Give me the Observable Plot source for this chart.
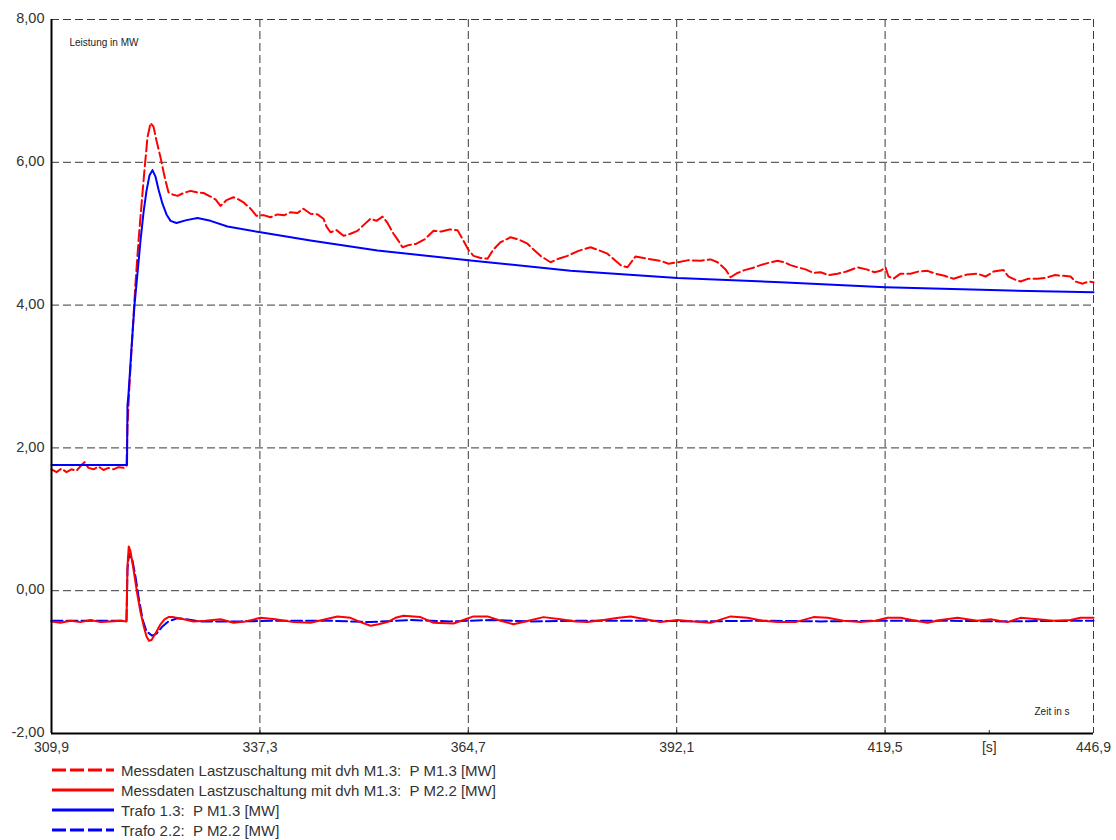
<!DOCTYPE html>
<html>
<head>
<meta charset="utf-8">
<script src="https://cdn.jsdelivr.net/npm/d3@7"></script>
<script src="https://cdn.jsdelivr.net/npm/@observablehq/plot@0.6"></script>
<style>
  html, body { margin: 0; padding: 0; background: #fff; }
  body { width: 1116px; height: 840px; overflow: hidden; font-family: "Liberation Sans", Arial, sans-serif; }
  #legend { margin-left: 52px; }
  .row { height: 20px; display: flex; align-items: center; font-size: 15px; color: #333; white-space: pre; }
  .row svg { margin-right: 7px; }
</style>
</head>
<body>
<div id="chart"></div>
<div id="legend"></div>
<script>
// ---- axis ticks ----
const xTicks = [309.9, 337.3, 364.7, 392.1, 419.5, 433.2, 446.9];
const xTickLabels = ["309,9", "337,3", "364,7", "392,1", "419,5", "[s]", "446,9"];
const xGrid = [337.3, 364.7, 392.1, 419.5, 446.9];
const yTicks = [-2, 0, 2, 4, 6, 8];
const yGrid = [0, 2, 4, 6, 8];

// ---- series: [time s, power MW] ----
const messM13 = [ // Messdaten Lastzuschaltung mit dvh M1.3: P M1.3 (dashed red)
  [309.9,1.70],[310.56,1.66],[311.21,1.71],[311.87,1.66],[312.53,1.70],[313.19,1.68],[313.84,1.76],[314.24,1.80],
  [314.76,1.72],[315.42,1.70],[316.08,1.74],[316.74,1.69],[317.39,1.72],[318.05,1.70],[318.71,1.73],[319.50,1.72],
  [319.76,1.75],[319.89,2.30],[320.16,2.90],[320.55,3.60],[320.94,4.30],[321.34,4.90],[321.73,5.40],[322.13,5.90],
  [322.52,6.35],[322.92,6.55],[323.31,6.50],[323.71,6.30],[324.23,6.07],[324.76,5.80],[325.28,5.58],[325.81,5.55],
  [326.47,5.53],[327.26,5.57],[328.18,5.60],[328.96,5.58],[329.88,5.57],[330.81,5.52],[331.46,5.48],[332.12,5.39],
  [332.91,5.47],[333.83,5.51],[334.49,5.48],[335.14,5.44],[336.07,5.35],[336.85,5.25],[337.77,5.26],[338.69,5.23],
  [339.61,5.27],[340.53,5.26],[341.32,5.30],[342.24,5.29],[343.03,5.35],[343.95,5.28],[344.87,5.27],[345.66,5.21],
  [346.06,5.10],[346.58,5.02],[347.37,5.05],[348.29,4.97],[349.21,5.00],[350.13,5.04],[350.92,5.12],[351.84,5.21],
  [352.63,5.18],[353.42,5.24],[354.08,5.15],[354.87,5.00],[355.39,4.92],[356.05,4.81],[356.84,4.84],[357.89,4.86],
  [358.94,4.92],[360.13,5.04],[361.17,5.03],[362.23,5.06],[363.28,5.05],[364.07,4.90],[364.73,4.77],[365.39,4.69],
  [366.31,4.66],[367.23,4.65],[368.01,4.78],[368.93,4.88],[370.25,4.95],[371.30,4.92],[372.48,4.86],[373.27,4.78],
  [374.19,4.69],[375.51,4.60],[376.56,4.65],[377.74,4.69],[379.19,4.76],[380.77,4.81],[381.82,4.77],[383.00,4.72],
  [384.06,4.62],[384.84,4.55],[385.63,4.53],[386.68,4.68],[388.26,4.65],[389.97,4.62],[391.02,4.58],[392.21,4.60],
  [393.65,4.63],[395.23,4.62],[396.55,4.64],[397.47,4.60],[398.52,4.50],[399.18,4.39],[400.10,4.45],[401.02,4.49],
  [402.07,4.52],[403.12,4.56],[404.44,4.60],[405.36,4.62],[406.28,4.60],[407.06,4.56],[407.99,4.53],[409.04,4.50],
  [410.09,4.45],[411.01,4.46],[412.06,4.42],[413.24,4.44],[414.43,4.47],[415.87,4.53],[417.06,4.50],[418.11,4.46],
  [418.90,4.48],[419.55,4.53],[419.95,4.40],[420.61,4.37],[421.53,4.44],[422.84,4.44],[423.89,4.47],[425.08,4.48],
  [426.13,4.44],[427.31,4.41],[428.50,4.37],[429.42,4.40],[430.34,4.43],[431.65,4.44],[432.70,4.40],[433.76,4.47],
  [435.07,4.49],[435.73,4.40],[436.52,4.36],[437.30,4.33],[438.36,4.37],[439.54,4.37],[440.59,4.38],[441.78,4.42],
  [442.96,4.41],[443.88,4.40],[444.54,4.33],[445.46,4.30],[446.25,4.33],[446.9,4.32]
];
const messM22 = [ // Messdaten Lastzuschaltung mit dvh M1.3: P M2.2 (solid red)
  [309.9,-0.43],[311.08,-0.45],[312.40,-0.42],[313.71,-0.44],[315.03,-0.41],[316.34,-0.44],[317.66,-0.43],[318.97,-0.42],
  [319.76,-0.43],[319.89,0.35],[320.06,0.62],[320.29,0.55],[320.68,0.30],[321.17,-0.04],[321.60,-0.30],[322.03,-0.50],
  [322.39,-0.64],[322.72,-0.70],[323.05,-0.69],[323.57,-0.60],[324.23,-0.47],[324.76,-0.40],[325.28,-0.37],[325.94,-0.37],
  [326.86,-0.39],[328.57,-0.43],[330.15,-0.42],[332.12,-0.40],[333.83,-0.45],[335.41,-0.43],[337.38,-0.38],[339.35,-0.40],
  [341.72,-0.44],[343.95,-0.45],[345.93,-0.40],[347.50,-0.36],[349.21,-0.38],[350.53,-0.44],[351.84,-0.49],[352.89,-0.47],
  [354.08,-0.44],[355.13,-0.38],[356.18,-0.35],[358.42,-0.37],[360.13,-0.45],[362.75,-0.46],[364.33,-0.40],[365.39,-0.36],
  [367.23,-0.36],[368.93,-0.42],[370.64,-0.47],[372.61,-0.42],[374.59,-0.37],[376.82,-0.40],[378.80,-0.43],[380.37,-0.44],
  [382.48,-0.41],[384.45,-0.38],[386.03,-0.36],[388.00,-0.40],[389.97,-0.44],[392.21,-0.41],[394.31,-0.43],[396.55,-0.45],
  [399.18,-0.36],[401.41,-0.38],[403.39,-0.42],[405.36,-0.44],[407.72,-0.44],[410.09,-0.37],[411.93,-0.38],[414.03,-0.42],
  [416.27,-0.44],[418.24,-0.42],[419.82,-0.38],[421.53,-0.38],[423.50,-0.42],[425.08,-0.45],[426.79,-0.41],[429.02,-0.38],
  [431.65,-0.42],[433.36,-0.40],[435.60,-0.44],[437.30,-0.38],[439.54,-0.40],[441.64,-0.42],[443.88,-0.41],[445.19,-0.38],
  [446.9,-0.38]
];
const trafo13 = [ // Trafo 1.3: P M1.3 (solid blue)
  [309.9,1.76],[319.83,1.76],[319.89,2.60],[320.02,2.75],[320.42,3.40],[320.81,4.00],[321.21,4.45],[321.60,4.90],
  [322.00,5.30],[322.39,5.60],[322.79,5.82],[323.18,5.89],[323.57,5.80],[323.97,5.62],[324.49,5.42],[325.02,5.27],
  [325.55,5.18],[326.33,5.15],[327.65,5.19],[329.10,5.22],[330.81,5.18],[333.04,5.10],[337.38,5.02],[343.95,4.905],
  [352.76,4.765],[365.0,4.625],[378.14,4.48],[392.21,4.38],[405.75,4.32],[419.55,4.25],[433.36,4.21],[446.9,4.18]
];
const trafo22 = [ // Trafo 2.2: P M2.2 (dashed blue)
  [309.9,-0.42],[319.76,-0.42],[319.89,0.30],[320.09,0.52],[320.29,0.45],[320.55,0.42],[320.94,0.20],[321.34,-0.08],
  [321.87,-0.40],[322.39,-0.57],[323.14,-0.63],[323.71,-0.60],[324.49,-0.50],[325.28,-0.43],[326.43,-0.385],[327.65,-0.40],
  [329.49,-0.43],[334.75,-0.43],[340.0,-0.42],[346.58,-0.42],[351.84,-0.44],[357.10,-0.41],[362.36,-0.43],[367.62,-0.41],
  [372.88,-0.43],[379.45,-0.42],[387.34,-0.42],[395.23,-0.43],[403.12,-0.42],[411.01,-0.43],[418.90,-0.42],[426.79,-0.42],
  [434.68,-0.43],[446.9,-0.42]
];

const seriesNames = [
  "Messdaten Lastzuschaltung mit dvh M1.3:  P M1.3 [MW]",
  "Messdaten Lastzuschaltung mit dvh M1.3:  P M2.2 [MW]",
  "Trafo 1.3:  P M1.3 [MW]",
  "Trafo 2.2:  P M2.2 [MW]"
];
const seriesColors = ["#ff0000", "#ff0000", "#0000ff", "#0000ff"];
const seriesDash = ["11,4", null, null, "11,4"];
const yLabel = "Leistung in MW";
const xLabel = "Zeit in s";

const fmtY = d => d.toFixed(2).replace(".", ",");
const gridStyle = {stroke: "#3a3a3a", strokeWidth: 1, strokeOpacity: 1, strokeDasharray: "8,4"};
const lineOpts = (i) => ({x: d => d[0], y: d => d[1], stroke: seriesColors[i], strokeWidth: 2,
  strokeDasharray: seriesDash[i] || undefined, curve: "linear"});

const plot = Plot.plot({
  width: 1116,
  height: 760,
  marginLeft: 51,
  marginRight: 23,
  marginTop: 19,
  marginBottom: 27,
  style: {fontFamily: "'Liberation Sans', Arial, sans-serif", fontSize: "14px", color: "#333", background: "#fff"},
  x: {domain: [309.9, 446.9]},
  y: {domain: [-2, 8]},
  marks: [
    Plot.ruleX(xGrid, gridStyle),
    Plot.ruleY(yGrid, gridStyle),
    Plot.line(trafo22, lineOpts(3)),
    Plot.line(messM22, lineOpts(1)),
    Plot.line(messM13, lineOpts(0)),
    Plot.line(trafo13, lineOpts(2)),
    Plot.axisY({ticks: yTicks, tickFormat: fmtY, tickSize: 0, tickPadding: 7, label: null, fill: "#333", fontSize: 14.5, dy: -1}),
    Plot.axisX({ticks: xTicks, tickFormat: (d, i) => xTickLabels[i], tickSize: -3, tickPadding: 12, label: null, fill: "#333", fontSize: 14}),
    Plot.ruleX([309.9], {stroke: "#000", strokeWidth: 2}),
    Plot.ruleY([-2], {stroke: "#000", strokeWidth: 2}),
    Plot.text([yLabel], {frameAnchor: "top-left", dx: 18, dy: 19, fontSize: 10, fill: "#222", text: d => d, textAnchor: "start"}),
    Plot.text([xLabel], {frameAnchor: "bottom-right", dx: -24, dy: -19, fontSize: 10, fill: "#222", text: d => d, textAnchor: "end"})
  ]
});
document.getElementById("chart").appendChild(plot);

// legend below the SVG
const legend = d3.select("#legend");
seriesNames.forEach((name, i) => {
  const row = legend.append("div").attr("class", "row");
  const sw = row.append("svg").attr("width", 62).attr("height", 10);
  sw.append("line").attr("x1", 0).attr("x2", 62).attr("y1", 5).attr("y2", 5)
    .attr("stroke", seriesColors[i]).attr("stroke-width", 3)
    .attr("stroke-dasharray", seriesDash[i] ? "14,4" : null);
  row.append("span").text(name);
});
</script>
</body>
</html>
